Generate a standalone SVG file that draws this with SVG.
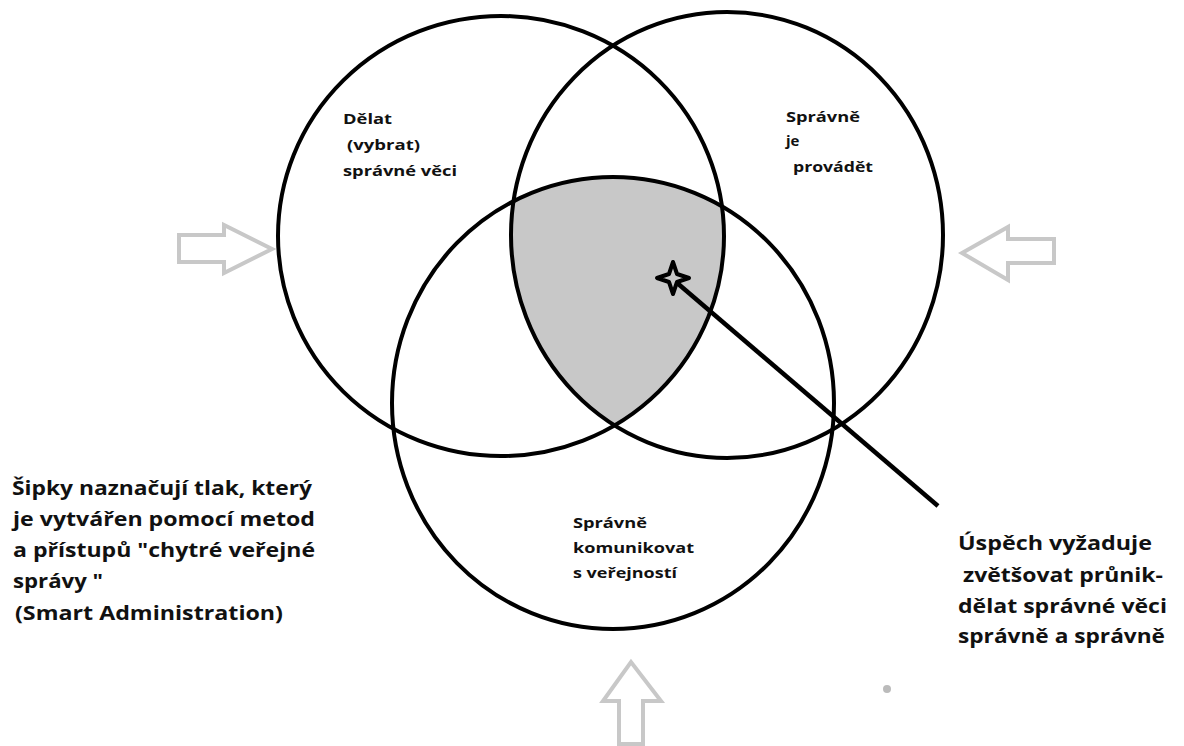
<svg xmlns="http://www.w3.org/2000/svg" width="1184" height="746" viewBox="0 0 1184 746">
  <style>
    .c { fill: none; stroke: #000; stroke-width: 4; }
    .arr { fill: #fff; stroke: #c8c8c8; stroke-width: 4; stroke-linejoin: miter; }
    .t { font-family: "Open Sans", "Noto Sans", "Liberation Sans", sans-serif; font-weight: bold; fill: #111; }
    .s { font-size: 15px; }
    .l { font-size: 20px; }
  </style>
  <defs>
    <clipPath id="clipL"><ellipse cx="501" cy="236" rx="223" ry="220"/></clipPath>
    <clipPath id="clipR"><ellipse cx="727" cy="235" rx="216" ry="223"/></clipPath>
  </defs>
  <rect width="1184" height="746" fill="#fff"/>

  <g id="intersection">
    <g clip-path="url(#clipL)">
      <g clip-path="url(#clipR)">
        <ellipse cx="613" cy="403" rx="221" ry="226" fill="#c8c8c8"/>
      </g>
    </g>
  </g>

  <g id="circle-delat">
    <ellipse class="c" cx="501" cy="236" rx="223" ry="220"/>
    <text class="t s"><tspan x="343" y="124" textLength="49" lengthAdjust="spacingAndGlyphs">Dělat</tspan><tspan x="347" y="150" textLength="73" lengthAdjust="spacingAndGlyphs">(vybrat)</tspan><tspan x="343" y="176" textLength="114" lengthAdjust="spacingAndGlyphs">správné věci</tspan></text>
  </g>

  <g id="circle-provadet">
    <ellipse class="c" cx="727" cy="235" rx="216" ry="223"/>
    <text class="t s"><tspan x="786" y="122" textLength="74" lengthAdjust="spacingAndGlyphs">Správně</tspan><tspan x="786" y="146">je</tspan><tspan x="793" y="172" textLength="80" lengthAdjust="spacingAndGlyphs">provádět</tspan></text>
  </g>

  <g id="circle-komunikovat">
    <ellipse class="c" cx="613" cy="403" rx="221" ry="226"/>
    <text class="t s"><tspan x="573" y="528" textLength="74" lengthAdjust="spacingAndGlyphs">Správně</tspan><tspan x="573" y="553" textLength="121" lengthAdjust="spacingAndGlyphs">komunikovat</tspan><tspan x="573" y="578" textLength="104" lengthAdjust="spacingAndGlyphs">s veřejností</tspan></text>
  </g>

  <g id="arrow-left">
    <polygon class="arr" points="179,235 224,235 224,225 272,249 224,273 224,262 179,262"/>
  </g>
  <g id="arrow-right">
    <polygon class="arr" points="1054,239 1008,239 1008,227 962,253 1008,280 1008,263 1054,263"/>
  </g>
  <g id="arrow-up">
    <polygon class="arr" points="619,744 619,701 603,701 631,662 661,701 643,701 643,744"/>
  </g>

  <g id="connectors">
    <line x1="676" y1="282" x2="938" y2="506" stroke="#000" stroke-width="4.5"/>
  </g>

  <g id="target-marker">
    <path d="M673,262 L677,274 L689,278 L677,282 L673,294 L669,282 L657,278 L669,274 Z" fill="#c8c8c8" stroke="#000" stroke-width="4" stroke-linejoin="round"/>
  </g>

  <g id="note-left">
    <text class="t l"><tspan x="12" y="495" textLength="300" lengthAdjust="spacingAndGlyphs">Šipky naznačují tlak, který</tspan><tspan x="13" y="526" textLength="302" lengthAdjust="spacingAndGlyphs">je vytvářen pomocí metod</tspan><tspan x="13" y="557" textLength="302" lengthAdjust="spacingAndGlyphs">a přístupů "chytré veřejné</tspan><tspan x="13" y="588" textLength="90" lengthAdjust="spacingAndGlyphs">správy "</tspan><tspan x="15" y="620" textLength="268" lengthAdjust="spacingAndGlyphs">(Smart Administration)</tspan></text>
  </g>

  <g id="note-right">
    <text class="t l"><tspan x="958" y="550" textLength="194" lengthAdjust="spacingAndGlyphs">Úspěch vyžaduje</tspan><tspan x="963" y="582" textLength="200" lengthAdjust="spacingAndGlyphs">zvětšovat průnik-</tspan><tspan x="958" y="613" textLength="209" lengthAdjust="spacingAndGlyphs">dělat správné věci</tspan><tspan x="958" y="643" textLength="207" lengthAdjust="spacingAndGlyphs">správně a správně</tspan></text>
  </g>

  <g id="dot">
    <circle cx="887" cy="689" r="4" fill="#bbb"/>
  </g>
</svg>
